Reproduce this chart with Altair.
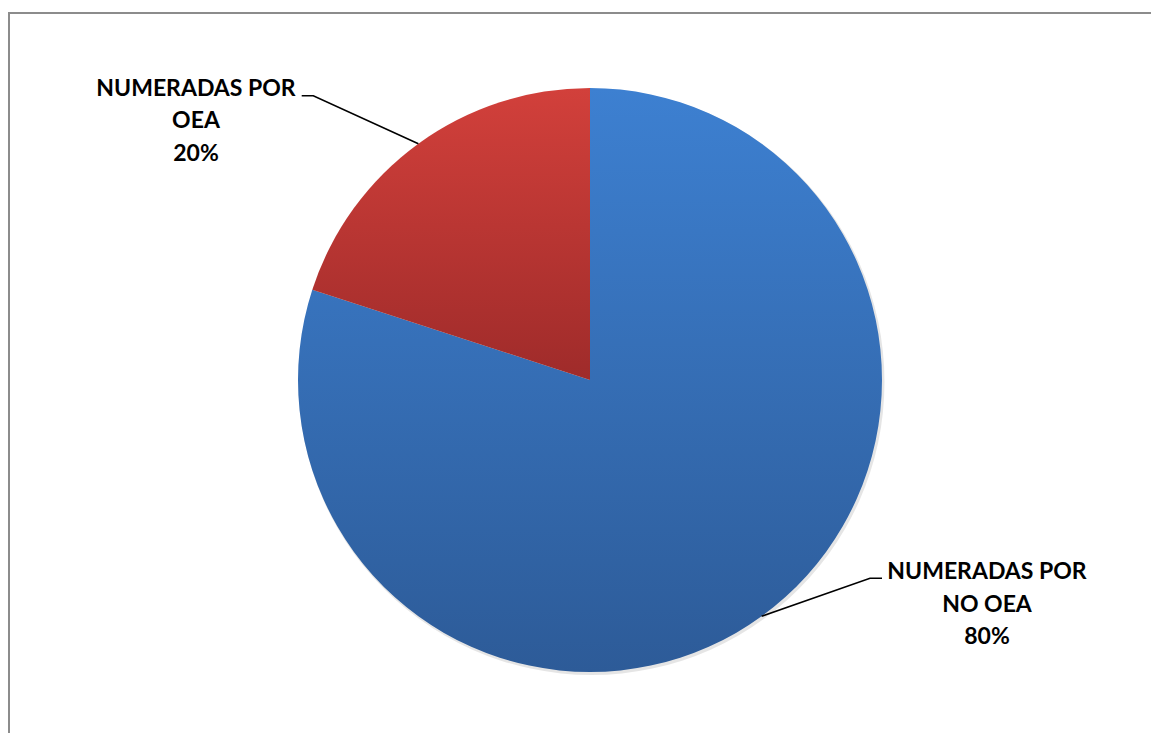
import math
import altair as alt
import pandas as pd

# ---- data ----
categories = ["NUMERADAS POR NO OEA", "NUMERADAS POR OEA"]
values = [80, 20]
label_line1 = ["NUMERADAS POR", "NUMERADAS POR"]
label_line2 = ["NO OEA", "OEA"]

# ---- layout (view pixel coordinates) ----
W, H = 1143, 721
CX, CY, R = 582, 368, 292
label_pos = {  # text centre x, first baseline y
    categories[0]: (979, 567),
    categories[1]: (188, 83.5),
}
leader_elbow = {
    categories[0]: [(862, 566.3), (874, 566.3)],
    categories[1]: [(305.3, 83.7), (293.7, 83.7)],
}
gradients = {
    categories[0]: ("#3d80d1", "#2d5b98"),
    categories[1]: ("#d2403b", "#9f2b2a"),
}
FONT = "Lato"

total = sum(values)
df = pd.DataFrame({"cat": categories, "value": values})

# label / leader data derived from values
rows_txt, rows_lead = [], []
cum = 0
for c, v, l1, l2 in zip(categories, values, label_line1, label_line2):
    mid = (cum + v / 2) / total * 2 * math.pi
    cum += v
    pct = f"{round(v / total * 100)}%"
    lx, ly = label_pos[c]
    rows_txt.append({"cat": c, "x": lx, "y": ly, "txt": f"{l1}\n{l2}\n{pct}"})
    sx, sy = CX + R * math.sin(mid), CY - R * math.cos(mid)
    pts = [(sx, sy)] + leader_elbow[c]
    for i, (px, py) in enumerate(pts):
        rows_lead.append({"cat": c, "i": i, "x": px, "y": py})
txt_df = pd.DataFrame(rows_txt)
lead_df = pd.DataFrame(rows_lead)

base = (
    alt.Chart(df)
    .transform_joinaggregate(total="sum(value)")
    .transform_window(cum="sum(value)", frame=[None, 0])
    .transform_calculate(
        t1="datum.cum / datum.total * 2 * PI",
        t0="(datum.cum - datum.value) / datum.total * 2 * PI",
    )
)

shadow = base.mark_arc(radius=R + 1, fill="#000000", opacity=0.10).encode(
    theta=alt.Theta("t0:Q", scale=None),
    theta2="t1:Q",
    x=alt.value(CX + 1.5),
    y=alt.value(CY + 2),
)

layers = [shadow]
for c in categories:
    top, bot = gradients[c]
    grad = alt.LinearGradient(
        gradient="linear",
        stops=[alt.GradientStop(offset=0, color=top), alt.GradientStop(offset=1, color=bot)],
        x1=0, x2=0, y1=0, y2=1,
    )
    layers.append(
        base.transform_filter(alt.datum.cat == c)
        .mark_arc(radius=R, fill=grad)
        .encode(
            theta=alt.Theta("t0:Q", scale=None),
            theta2="t1:Q",
            x=alt.value(CX),
            y=alt.value(CY),
        )
    )

leaders = alt.Chart(lead_df).mark_line(color="#000000", strokeWidth=1.6).encode(
    x=alt.X("x:Q", scale=None, axis=None),
    y=alt.Y("y:Q", scale=None, axis=None),
    detail="cat:N",
    order="i:Q",
)

labels = alt.Chart(txt_df).mark_text(
    font=FONT, fontSize=23, fontWeight="bold", color="#000000",
    align="center", baseline="alphabetic", lineBreak="\n", lineHeight=32.7,
).encode(
    x=alt.X("x:Q", scale=None, axis=None),
    y=alt.Y("y:Q", scale=None, axis=None),
    text="txt:N",
)

frame_top = alt.Chart(df).mark_rule(color="#8c8c8c", strokeWidth=2).encode(
    x=alt.value(0), x2=alt.value(W), y=alt.value(1)
)
frame_left = alt.Chart(df).mark_rule(color="#8c8c8c", strokeWidth=2).encode(
    x=alt.value(1), y=alt.value(0), y2=alt.value(H)
)

chart = (
    alt.layer(frame_top, frame_left, *layers, leaders, labels)
    .properties(
        width=W, height=H,
        padding={"left": 0, "top": 4, "right": 0, "bottom": 0},
        autosize=alt.AutoSizeParams(type="none"),
        background="#ffffff",
    )
    .configure_view(stroke=None)
)

chart.save("out.html", embed_options={"renderer": "svg", "actions": False})
